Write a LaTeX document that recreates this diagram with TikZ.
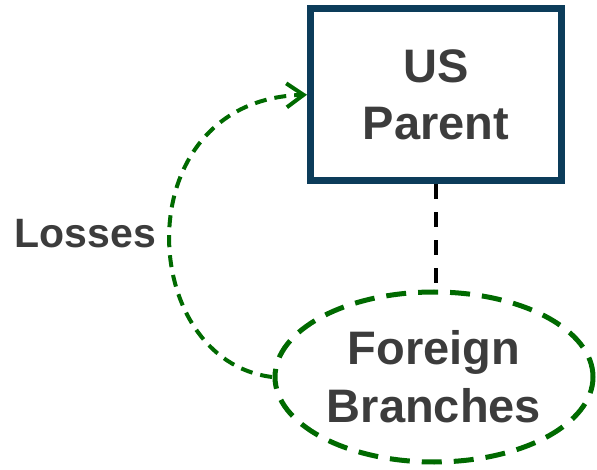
\documentclass[tikz,border=0pt]{standalone}
\usepackage{fontspec}
\setmainfont{Liberation Sans}
\usetikzlibrary{arrows.meta,shapes.geometric}
\definecolor{parentblue}{RGB}{12,60,90}
\definecolor{lossgreen}{RGB}{0,106,0}
\definecolor{labelgray}{RGB}{60,60,60}
\begin{document}
\begin{tikzpicture}[x=1pt,y=-1pt,
  entitybox/.style={draw=parentblue, line width=7pt, rectangle,
    minimum width=251pt, minimum height=172.5pt, inner sep=0pt,
    align=center, text=labelgray, font=\bfseries\fontsize{47}{57}\selectfont},
  branchoval/.style={draw=lossgreen, line width=5pt, ellipse,
    dash pattern=on 20pt off 12pt,
    minimum width=318pt, minimum height=170pt, inner sep=0pt,
    align=center, text=labelgray, font=\bfseries\fontsize{47}{58}\selectfont},
  ownership/.style={draw=black, line width=4pt, dash pattern=on 15pt off 13pt},
  lossflow/.style={draw=lossgreen, line width=4pt, dash pattern=on 12pt off 8pt,
    -{Straight Barb[length=17pt,width=24pt]}},
  flowlabel/.style={text=labelgray, font=\bfseries\fontsize{41}{49}\selectfont, inner sep=0pt}
]
\useasboundingbox (0,0) rectangle (597,470);

\node[entitybox] (parent) at (436,94.75) {US\\Parent};
\node[branchoval] (branch) at (434,377) {Foreign\\Branches};

% ownership link
\draw[ownership] (parent.south) -- (parent.south |- branch.north);

% losses flowing up to the parent
\coordinate (lossstart) at (272,377);
\draw[lossflow] (lossstart) .. controls (135,360) and (125,100) .. (parent.west);
\node[flowlabel, anchor=base] (losses) at (85.5,248) {Losses};
\end{tikzpicture}
\end{document}
